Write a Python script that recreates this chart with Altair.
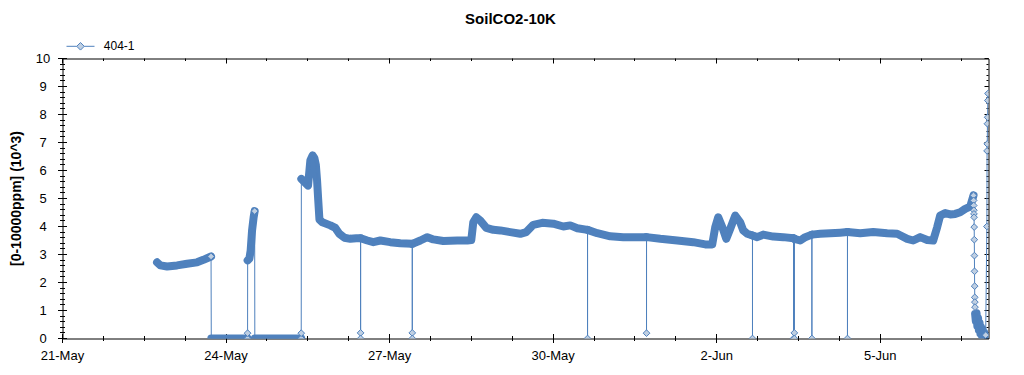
import altair as alt
import pandas as pd

TITLE = "SoilCO2-10K"
SERIES = "404-1"
Y_TITLE = "[0-10000ppm] (10^3)"

# readings of the single logger channel (thousands of ppm)
times = [
    "2014-05-22 17:38", "2014-05-22 19:05", "2014-05-22 22:02", "2014-05-23 02:26",
    "2014-05-23 06:50", "2014-05-23 11:14", "2014-05-23 14:01", "2014-05-23 17:24",
    "2014-05-23 17:30", "2014-05-24 09:28", "2014-05-24 09:29", "2014-05-24 09:31",
    "2014-05-24 10:16", "2014-05-24 10:50", "2014-05-24 11:27", "2014-05-24 12:09",
    "2014-05-24 12:36", "2014-05-24 12:40", "2014-05-25 09:05", "2014-05-25 09:06",
    "2014-05-25 09:09", "2014-05-25 10:36", "2014-05-25 12:06", "2014-05-25 13:07",
    "2014-05-25 14:07", "2014-05-25 14:52", "2014-05-25 15:32", "2014-05-25 16:04",
    "2014-05-25 16:35", "2014-05-25 17:07", "2014-05-25 18:24", "2014-05-25 21:55",
    "2014-05-26 00:07", "2014-05-26 01:52", "2014-05-26 04:05", "2014-05-26 06:43",
    "2014-05-26 09:22", "2014-05-26 11:13", "2014-05-26 11:14", "2014-05-26 11:15",
    "2014-05-26 11:16", "2014-05-26 14:12", "2014-05-26 16:50", "2014-05-26 19:55",
    "2014-05-27 00:19", "2014-05-27 04:43", "2014-05-27 09:58", "2014-05-27 09:59",
    "2014-05-27 10:00", "2014-05-27 10:01", "2014-05-27 13:32", "2014-05-27 16:37",
    "2014-05-27 19:15", "2014-05-27 23:39", "2014-05-28 05:49", "2014-05-28 10:13",
    "2014-05-28 11:58", "2014-05-28 12:51", "2014-05-28 14:10", "2014-05-28 15:56",
    "2014-05-28 18:35", "2014-05-28 21:40", "2014-05-29 00:44", "2014-05-29 05:08",
    "2014-05-29 09:32", "2014-05-29 12:11", "2014-05-29 15:16", "2014-05-29 19:13",
    "2014-05-30 00:04", "2014-05-30 04:28", "2014-05-30 07:33", "2014-05-30 10:38",
    "2014-05-30 15:08", "2014-05-30 15:09", "2014-05-30 15:10", "2014-05-30 19:26",
    "2014-05-31 01:09", "2014-05-31 06:52", "2014-05-31 12:10", "2014-05-31 17:06",
    "2014-05-31 17:07", "2014-05-31 17:08", "2014-05-31 23:10", "2014-06-01 06:38",
    "2014-06-01 13:41", "2014-06-01 18:58", "2014-06-01 22:03", "2014-06-01 23:22",
    "2014-06-02 00:41", "2014-06-02 02:27", "2014-06-02 04:13", "2014-06-02 05:58",
    "2014-06-02 08:10", "2014-06-02 10:22", "2014-06-02 11:41", "2014-06-02 13:27",
    "2014-06-02 15:45", "2014-06-02 15:46", "2014-06-02 15:47", "2014-06-02 17:51",
    "2014-06-02 20:29", "2014-06-03 00:54", "2014-06-03 05:18", "2014-06-03 09:50",
    "2014-06-03 09:51", "2014-06-03 09:52", "2014-06-03 10:10", "2014-06-03 10:11",
    "2014-06-03 10:12", "2014-06-03 10:13", "2014-06-03 12:47", "2014-06-03 14:59",
    "2014-06-03 17:54", "2014-06-03 17:55", "2014-06-03 17:56", "2014-06-03 21:35",
    "2014-06-04 01:59", "2014-06-04 06:23", "2014-06-04 09:34", "2014-06-04 09:35",
    "2014-06-04 09:36", "2014-06-04 15:11", "2014-06-04 20:55", "2014-06-05 03:04",
    "2014-06-05 07:28", "2014-06-05 11:53", "2014-06-05 14:31", "2014-06-05 17:36",
    "2014-06-05 20:41", "2014-06-05 23:19", "2014-06-06 01:05", "2014-06-06 02:24",
    "2014-06-06 04:36", "2014-06-06 06:48", "2014-06-06 09:00", "2014-06-06 11:12",
    "2014-06-06 13:24", "2014-06-06 15:36", "2014-06-06 17:04", "2014-06-06 17:07",
    "2014-06-06 17:10", "2014-06-06 17:13", "2014-06-06 17:16", "2014-06-06 17:19",
    "2014-06-06 17:22", "2014-06-06 17:25", "2014-06-06 17:28", "2014-06-06 17:31",
    "2014-06-06 17:34", "2014-06-06 17:37", "2014-06-06 17:40", "2014-06-06 17:43",
    "2014-06-06 17:46", "2014-06-06 18:05", "2014-06-06 18:25", "2014-06-06 18:45",
    "2014-06-06 19:05", "2014-06-06 19:25", "2014-06-06 19:45", "2014-06-06 20:05",
    "2014-06-06 20:25", "2014-06-06 20:45", "2014-06-06 21:05", "2014-06-06 21:25",
    "2014-06-06 21:45", "2014-06-06 22:05", "2014-06-06 22:25", "2014-06-06 22:57",
    "2014-06-06 23:02", "2014-06-06 23:07", "2014-06-06 23:12", "2014-06-06 23:17",
    "2014-06-06 23:22", "2014-06-06 23:27",
]
values = [
    2.72, 2.61, 2.57, 2.61,
    2.67, 2.72, 2.81, 2.93,
    0.00, 0.00, 0.19, 2.79,
    2.85, 3.14, 3.86, 4.33,
    4.55, 0.00, 0.00, 0.19,
    5.70, 5.58, 5.46, 6.36,
    6.54, 6.45, 6.20, 5.65,
    4.95, 4.25, 4.15, 4.04,
    3.95, 3.74, 3.60, 3.56,
    3.58, 3.58, 0.20, 0.00,
    3.58, 3.50, 3.44, 3.50,
    3.44, 3.40, 3.38, 0.20,
    0.00, 3.38, 3.50, 3.62,
    3.54, 3.48, 3.50, 3.50,
    3.52, 4.15, 4.33, 4.21,
    3.95, 3.88, 3.86, 3.80,
    3.74, 3.80, 4.06, 4.13,
    4.10, 4.00, 4.04, 3.94,
    3.88, 0.00, 3.88, 3.76,
    3.65, 3.62, 3.62, 3.62,
    0.19, 3.62, 3.56, 3.50,
    3.44, 3.36, 3.36, 3.98,
    4.33, 3.98, 3.56, 3.92,
    4.39, 4.15, 3.86, 3.74,
    3.68, 0.00, 3.68, 3.62,
    3.71, 3.64, 3.62, 3.58,
    0.00, 3.58, 3.56, 0.20,
    0.00, 3.56, 3.50, 3.62,
    3.71, 0.00, 3.71, 3.74,
    3.76, 3.78, 3.80, 0.00,
    3.80, 3.76, 3.80, 3.76,
    3.74, 3.56, 3.50, 3.62,
    3.52, 3.50, 3.98, 4.39,
    4.48, 4.43, 4.45, 4.51,
    4.63, 4.71, 5.11, 4.93,
    4.75, 4.58, 4.45, 4.33,
    3.98, 3.53, 2.96, 2.40,
    1.87, 1.47, 1.30, 1.12,
    0.88, 0.62, 0.90, 0.45,
    0.72, 0.30, 0.55, 0.18,
    0.40, 0.10, 0.32, 0.05,
    0.22, 0.00, 0.12, 4.00,
    6.70, 6.95, 7.67, 7.90,
    8.50, 8.75,
]

x_range = ["2014-05-21 00:00", "2014-06-06 23:40"]
x_tick_dates = ["2014-05-21", "2014-05-24", "2014-05-27", "2014-05-30", "2014-06-02", "2014-06-05"]
x_minor_hours = 18
y_range = [0, 10]
y_tick_values = list(range(0, 11))
y_minor_step = 0.2

BLUE = "#4f81bd"
LIGHT = "#bfcfe2"
FONT = "Liberation Sans"


def to_dt(ts):
    ts = pd.Timestamp(ts)
    return alt.DateTime(year=ts.year, month=ts.month, date=ts.day,
                        hours=ts.hour, minutes=ts.minute)


# ---- data preparation ----
df = pd.DataFrame({"t": pd.to_datetime(times), "v": values})
df["series"] = SERIES
dt_days = df["t"].diff().dt.total_seconds() / 86400.0
slope = df["v"].diff().abs() / dt_days
link_prev = (slope <= 40).fillna(False).astype(bool)
link_next = link_prev.shift(-1, fill_value=False).astype(bool)
df["seg"] = (~link_prev).cumsum()

covered = []
for i in range(len(df)):
    c = False
    for j in range(i + 1, len(df)):
        if (df["t"].iloc[j] - df["t"].iloc[i]).total_seconds() > 20 * 60:
            break
        if abs(df["v"].iloc[j] - df["v"].iloc[i]) < 0.1:
            c = True
            break
    covered.append(c)
covered = pd.Series(covered, index=df.index)

band = df[link_prev | link_next]
markers = df[(~link_next) & (~covered)]

# ---- ticks ----
start = pd.Timestamp(x_range[0])
end = pd.Timestamp(x_range[1])
x_major = [to_dt(d) for d in x_tick_dates]
x_minor = []
k = 0
while start + pd.Timedelta(hours=k * x_minor_hours) <= end:
    x_minor.append(to_dt(start + pd.Timedelta(hours=k * x_minor_hours)))
    k += 1
y_major = y_tick_values
y_minor = [round(i * y_minor_step, 1) for i in range(int(round((y_range[1] - y_range[0]) / y_minor_step)) + 1)]

common = dict(grid=False, domain=False, translate=0, tickColor="black", tickWidth=1)

ax_bottom_major = alt.Axis(orient="bottom", values=x_major, format="%-d-%b", tickSize=9, offset=-4.5,
                           labelPadding=6.5, labelFlush=False, labelOverlap=False, title=None,
                           labelFont=FONT, labelFontSize=13, labelColor="black", **common)
ax_bottom_minor = alt.Axis(orient="bottom", values=x_minor, tickSize=5, offset=-2.5, labels=False,
                           title=None, **common)
ax_top_major = alt.Axis(orient="top", values=x_major, tickSize=5, offset=-5, labels=False,
                        title=None, **common)
ax_top_minor = alt.Axis(orient="top", values=x_minor, tickSize=2.5, offset=-2.5, labels=False,
                        title=None, **common)

ax_left_major = alt.Axis(orient="left", values=y_major, tickSize=9, offset=-4.5, labelAlign="center",
                         labelPadding=15, labelFont=FONT, labelFontSize=13, labelColor="black",
                         title=Y_TITLE, titleFont=FONT, titleFontSize=14, titleFontWeight="bold",
                         titleColor="black", titlePadding=12, **common)
ax_left_minor = alt.Axis(orient="left", values=y_minor, tickSize=5, offset=-2.5, labels=False,
                         title=None, **common)
ax_right_major = alt.Axis(orient="right", values=y_major, tickSize=4, offset=-4, labels=False,
                          title=None, **common)
ax_right_minor = alt.Axis(orient="right", values=y_minor, tickSize=2, offset=-2, labels=False,
                          title=None, **common)

x_scale = alt.Scale(domain=[to_dt(x_range[0]), to_dt(x_range[1])])
y_scale = alt.Scale(domain=y_range, nice=False, zero=False)


def xenc(axis):
    return alt.X("t:T", scale=x_scale, axis=axis)


def yenc(axis):
    return alt.Y("v:Q", scale=y_scale, axis=axis)


LEGEND_PATH = "M-1,0H-0.27M0.27,0H1M-0.27,0L0,-0.27L0.27,0L0,0.27Z"

band_layer = alt.Chart(band).mark_line(
    color=BLUE, strokeWidth=8, strokeCap="round", strokeJoin="round", clip=True
).encode(x=xenc(ax_bottom_major), y=yenc(ax_left_major), detail="seg:N")

line_layer = alt.Chart(df).mark_line(color=BLUE, strokeWidth=1, clip=True).encode(
    x=xenc(ax_bottom_minor), y=yenc(ax_left_minor)
)

point_layer = alt.Chart(markers).mark_point(
    shape="diamond", filled=True, fill=LIGHT, size=45, strokeWidth=1, opacity=1, clip=True
).encode(
    x=xenc(ax_top_major),
    y=yenc(ax_right_major),
    stroke=alt.Stroke(
        "series:N",
        scale=alt.Scale(domain=[SERIES], range=[BLUE]),
        legend=alt.Legend(title=None, orient="none", legendX=3.5, legendY=-26.7,
                          symbolType=LEGEND_PATH, symbolSize=784, symbolStrokeWidth=1,
                          symbolFillColor=LIGHT, labelFont=FONT, labelFontSize=12,
                          labelColor="black", labelOffset=8.8, padding=0),
    ),
)

axis_layer = alt.Chart(df).mark_point(opacity=0).encode(
    x=xenc(ax_top_minor), y=yenc(ax_right_minor)
)

chart = alt.layer(band_layer, line_layer, point_layer, axis_layer).resolve_axis(
    x="independent", y="independent"
).properties(
    width=926,
    height=280,
    padding={"left": 54.5, "top": 50.5, "right": 20, "bottom": 30},
    autosize=alt.AutoSizeParams(type="none"),
    background="white",
    title=alt.TitleParams(TITLE, font=FONT, fontSize=15, fontWeight="bold", color="black",
                          anchor="middle", dx=-15, offset=5),
).configure_view(stroke="black", strokeWidth=1)

chart.save("out.html", embed_options={"renderer": "svg", "actions": False})
